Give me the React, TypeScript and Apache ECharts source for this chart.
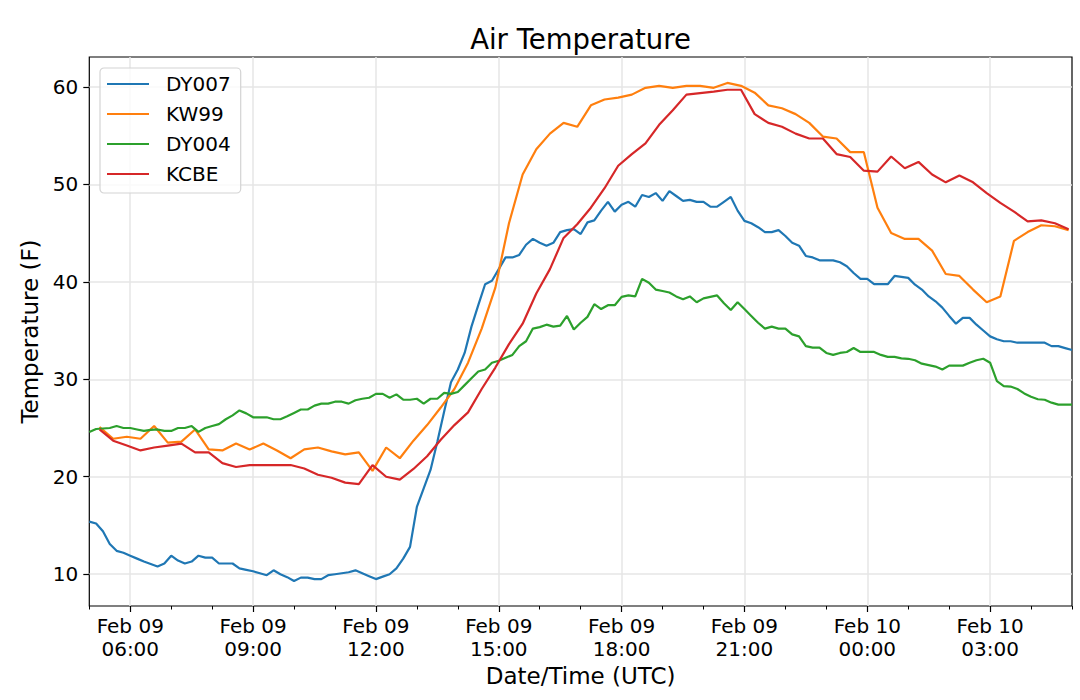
import { useEffect, useRef } from "react";
import * as echarts from "echarts";

const FONT = "DejaVu Sans";

const SERIES_NAMES = ["DY007", "KW99", "DY004", "KCBE"];
const COLORS = ["#1f77b4", "#ff7f0e", "#2ca02c", "#d62728"];

// x axis in hours since Feb 09 00:00 UTC
const X_MIN = 5;
const X_MAX = 29;
const X_TICKS = [6, 9, 12, 15, 18, 21, 24, 27];
const Y_TICKS = [10, 20, 30, 40, 50, 60];
const Y_MIN = 6.74;
const Y_MAX = 63.06;

// sampling: DY stations every 10 min from 05:00, KW99/KCBE every 20 min from 05:15
const DY_START_HOUR = 5;
const DY_STEP_MIN = 10;
const AS_START_HOUR = 5.25;
const AS_STEP_MIN = 20;

const DY007 = [
  15.4, 15.2, 14.4, 13.1, 12.4, 12.2,
  11.9, 11.6, 11.3, 11.05, 10.8, 11.1,
  11.9, 11.4, 11.1, 11.3, 11.9, 11.7,
  11.7, 11.1, 11.1, 11.1, 10.6, 10.45,
  10.3, 10.1, 9.9, 10.4, 10.0, 9.7,
  9.3, 9.65, 9.65, 9.5, 9.5, 9.9,
  10.0, 10.1, 10.2, 10.4, 10.1, 9.8,
  9.5, 9.75, 10.0, 10.6, 11.6, 12.8,
  16.9, 18.8, 20.7, 23.6, 26.7, 29.7,
  31.0, 32.7, 35.4, 37.6, 39.75, 40.1,
  41.3, 42.5, 42.5, 42.75, 43.8, 44.4,
  44.0, 43.7, 44.0, 45.1, 45.3, 45.4,
  44.9, 46.1, 46.3, 47.3, 48.2, 47.2,
  47.9, 48.2, 47.7, 48.9, 48.7, 49.1,
  48.3, 49.3, 48.8, 48.3, 48.4, 48.2,
  48.2, 47.7, 47.7, 48.2, 48.7, 47.3,
  46.25, 46.0, 45.6, 45.1, 45.1, 45.3,
  44.7, 44.0, 43.7, 42.65, 42.5, 42.2,
  42.2, 42.2, 42.0, 41.6, 40.9, 40.3,
  40.3, 39.75, 39.75, 39.75, 40.6, 40.5,
  40.4, 39.7, 39.2, 38.5, 38.0, 37.35,
  36.5, 35.7, 36.3, 36.3, 35.6, 35.0,
  34.4, 34.1, 33.9, 33.9, 33.75, 33.75,
  33.75, 33.75, 33.75, 33.4, 33.4, 33.2,
  33.0,
];

const DY004 = [
  24.6, 24.9, 24.95, 25.0, 25.2, 25.0,
  25.0, 24.85, 24.7, 24.8, 24.85, 24.7,
  24.7, 25.0, 25.0, 25.2, 24.6, 25.0,
  25.2, 25.4, 25.9, 26.3, 26.8, 26.5,
  26.1, 26.1, 26.1, 25.9, 25.9, 26.2,
  26.55, 26.9, 26.9, 27.3, 27.5, 27.5,
  27.7, 27.7, 27.5, 27.85, 28.0, 28.1,
  28.5, 28.5, 28.1, 28.45, 27.9, 27.9,
  28.0, 27.5, 28.0, 28.0, 28.6, 28.5,
  28.7, 29.4, 30.1, 30.8, 31.0, 31.7,
  31.9, 32.2, 32.5, 33.4, 33.9, 35.2,
  35.35, 35.6, 35.4, 35.5, 36.5, 35.1,
  35.8, 36.4, 37.7, 37.2, 37.6, 37.6,
  38.45, 38.6, 38.5, 40.3, 39.9, 39.2,
  39.05, 38.9, 38.5, 38.2, 38.5, 37.9,
  38.3, 38.45, 38.6, 37.8, 37.1, 37.9,
  37.2, 36.5, 35.8, 35.2, 35.4, 35.2,
  35.2, 34.6, 34.4, 33.4, 33.25, 33.25,
  32.7, 32.5, 32.7, 32.8, 33.2, 32.8,
  32.8, 32.8, 32.5, 32.3, 32.3, 32.15,
  32.1, 31.95, 31.6, 31.45, 31.3, 31.0,
  31.4, 31.4, 31.4, 31.7, 31.95, 32.1,
  31.7, 29.8, 29.3, 29.25, 29.0, 28.55,
  28.2, 27.95, 27.9, 27.6, 27.4, 27.4,
  27.4,
];

const KW99 = [
  25.1, 23.9, 24.1,
  23.9, 25.2, 23.5,
  23.6, 24.85, 22.8,
  22.7, 23.4, 22.8,
  23.4, 22.7, 21.9,
  22.8, 23.0, 22.6,
  22.3, 22.5, 20.6,
  23.0, 21.9, 23.7,
  25.3, 27.1, 29.0,
  31.7, 35.2, 39.4,
  46.0, 51.0, 53.6,
  55.2, 56.3, 55.9,
  58.1, 58.7, 58.9,
  59.2, 59.9, 60.1,
  59.9, 60.1, 60.1,
  59.9, 60.4, 60.1,
  59.4, 58.1, 57.8,
  57.2, 56.3, 54.9,
  54.7, 53.3, 53.3,
  47.6, 45.0, 44.4,
  44.4, 43.2, 40.8,
  40.6, 39.2, 37.9,
  38.5, 44.2, 45.1,
  45.8, 45.7, 45.3,
];

const KCBE = [
  24.85, 23.7, 23.2,
  22.7, 23.0, 23.2,
  23.4, 22.5, 22.5,
  21.4, 21.0, 21.2,
  21.2, 21.2, 21.2,
  20.85, 20.2, 19.9,
  19.4, 19.25, 21.2,
  20.0, 19.7, 20.8,
  22.1, 23.8, 25.3,
  26.6, 29.0, 31.2,
  33.6, 35.7, 38.8,
  41.3, 44.5, 45.9,
  47.6, 49.6, 51.9,
  53.1, 54.2, 56.1,
  57.6, 59.2, 59.35,
  59.5, 59.7, 59.7,
  57.2, 56.3, 55.9,
  55.2, 54.7, 54.7,
  53.1, 52.8, 51.4,
  51.3, 52.85, 51.65,
  52.3, 51.0, 50.2,
  50.9, 50.2, 49.1,
  48.1, 47.2, 46.2,
  46.3, 46.0, 45.4,
];

const toPairs = (vals: number[], startHour: number, stepMin: number) =>
  vals.map((v, i) => [startHour + (i * stepMin) / 60, v]);

const SERIES_DATA = [
  toPairs(DY007, DY_START_HOUR, DY_STEP_MIN),
  toPairs(KW99, AS_START_HOUR, AS_STEP_MIN),
  toPairs(DY004, DY_START_HOUR, DY_STEP_MIN),
  toPairs(KCBE, AS_START_HOUR, AS_STEP_MIN),
];

const fmtX = (h: number) => {
  const day = h >= 24 ? "Feb 10" : "Feb 09";
  const hh = Math.round(((h % 24) + 24) % 24);
  return `${day}\n${String(hh).padStart(2, "0")}:00`;
};

export default function App() {
  const ref = useRef<HTMLDivElement>(null);
  useEffect(() => {
    if (!ref.current) return;
    const chart = echarts.init(ref.current, null, { renderer: "svg" });
    const gridPos = { left: 89.3, right: 8, top: 57, bottom: 94 };
    const option: any = {
      animation: false,
      backgroundColor: "#ffffff",
      textStyle: { fontFamily: FONT },
      title: {
        text: "Air Temperature",
        left: 580.5,
        top: 25,
        padding: 0,
        textAlign: "center",
        textStyle: { fontFamily: FONT, fontSize: 27.5, fontWeight: "normal", color: "#000", lineHeight: 27 },
      },
      grid: [
        { ...gridPos, show: true, borderColor: "#000", borderWidth: 1.2, backgroundColor: "transparent", outerBoundsMode: "none", containLabel: false },
        { ...gridPos, show: false, outerBoundsMode: "none", containLabel: false },
      ],
      legend: {
        orient: "vertical",
        left: 100,
        top: 68,
        padding: [6, 10, 9, 7],
        itemWidth: 42,
        itemHeight: 2,
        itemGap: 10,
        icon: "rect",
        backgroundColor: "rgba(255,255,255,0.8)",
        borderColor: "#d4d4d4",
        borderWidth: 1.2,
        borderRadius: 4,
        textStyle: { fontFamily: FONT, fontSize: 20, lineHeight: 20, color: "#000", padding: [0, 0, 0, 12] },
        data: SERIES_NAMES,
      },
      xAxis: [
        {
          type: "value",
          gridIndex: 0,
          min: X_MIN,
          max: X_MAX,
          name: "Date/Time (UTC)",
          nameLocation: "middle",
          nameGap: 56,
          nameTextStyle: { fontFamily: FONT, fontSize: 23, color: "#000", lineHeight: 23 },
          axisLine: { show: false },
          axisTick: { show: true, customValues: X_TICKS, length: 6, lineStyle: { color: "#000", width: 1.2 } },
          axisLabel: {
            customValues: X_TICKS,
            formatter: (v: number) => fmtX(v),
            fontFamily: FONT,
            fontSize: 20,
            lineHeight: 23,
            color: "#000",
            margin: 8,
          },
          splitLine: { show: true, lineStyle: { color: "#e6e6e6", width: 1.5 } },
        },
        {
          type: "value",
          gridIndex: 1,
          min: X_MIN,
          max: X_MAX,
          interval: 1,
          axisLine: { show: false },
          axisTick: { show: true, length: 3.5, lineStyle: { color: "#000", width: 1 } },
          axisLabel: { show: false },
          splitLine: { show: false },
        },
      ],
      yAxis: [
        {
          type: "value",
          gridIndex: 0,
          min: Y_MIN,
          max: Y_MAX,
          name: "Temperature (F)",
          nameLocation: "middle",
          nameGap: 39,
          nameTextStyle: { fontFamily: FONT, fontSize: 23, color: "#000", lineHeight: 23 },
          axisLine: { show: false },
          axisTick: { show: true, customValues: Y_TICKS, length: 6, lineStyle: { color: "#000", width: 1.2 } },
          axisLabel: {
            customValues: Y_TICKS,
            fontFamily: FONT,
            fontSize: 20,
            color: "#000",
            margin: 11,
          },
          splitLine: { show: true, lineStyle: { color: "#e6e6e6", width: 1.5 } },
        },
        { type: "value", gridIndex: 1, min: 0, max: 1, show: false },
      ],
      series: SERIES_NAMES.map((name, i) => ({
        name,
        type: "line",
        xAxisIndex: 0,
        yAxisIndex: 0,
        data: SERIES_DATA[i],
        showSymbol: false,
        symbol: "none",
        lineStyle: { width: 2.2, color: COLORS[i] },
        itemStyle: { color: COLORS[i] },
        emphasis: { disabled: true },
        z: 2 + i,
      })),
    };
    chart.setOption(option);
    return () => chart.dispose();
  }, []);
  return <div ref={ref} style={{ position: "absolute", left: 0, top: 0, width: 1080, height: 700 }} />;
}
